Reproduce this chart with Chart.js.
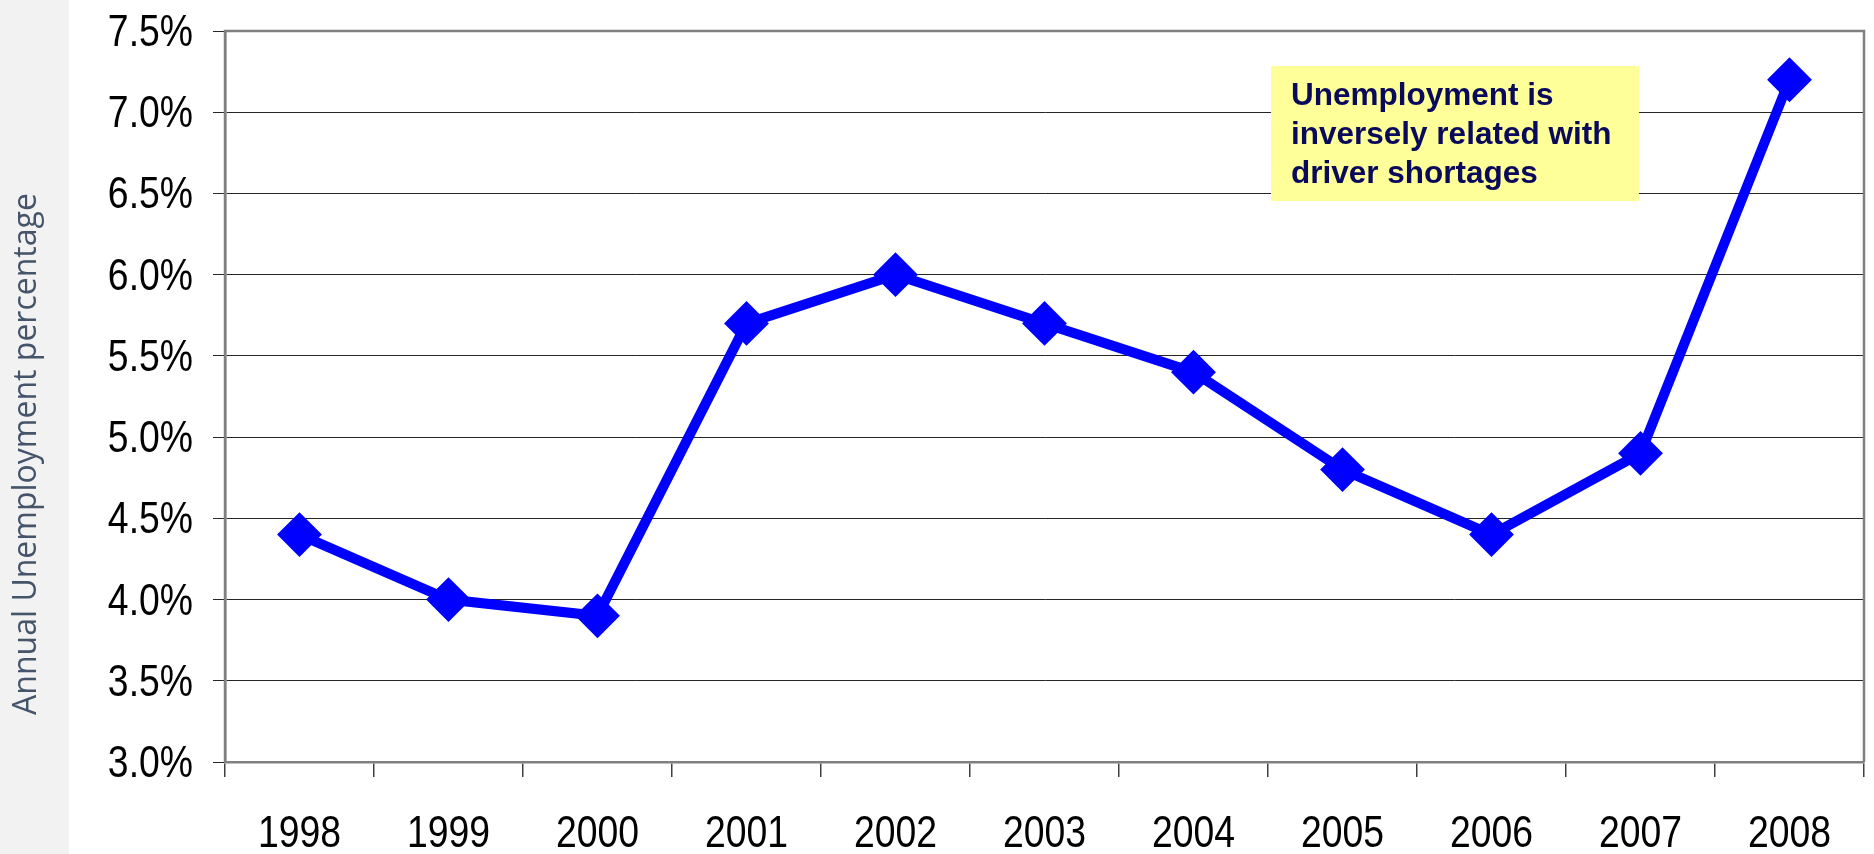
<!DOCTYPE html>
<html><head><meta charset="utf-8">
<script src="https://cdn.jsdelivr.net/npm/chart.js@4.4.0/dist/chart.umd.min.js"></script>
<style>html,body{margin:0;padding:0;background:#fff;overflow:hidden}</style>
</head><body>
<canvas id="c" width="1874" height="854"></canvas>
<script>
const years = ['1998','1999','2000','2001','2002','2003','2004','2005','2006','2007','2008'];
const unemployment = [4.4, 4.0, 3.9, 5.7, 6.0, 5.7, 5.4, 4.8, 4.4, 4.9, 7.2];
const yTickValues = [3.0, 3.5, 4.0, 4.5, 5.0, 5.5, 6.0, 6.5, 7.0, 7.5];
const yAxisTitle = 'Annual Unemployment percentage';
const noteLines = ['Unemployment is', 'inversely related with', 'driver shortages'];

const SANS = "'Liberation Sans', Arial, sans-serif";
const fmtPct = v => Number(v).toFixed(1) + '%';

const panelPlugin = {
  id: 'panel',
  beforeDraw(chart) {
    const ctx = chart.ctx;
    ctx.save();
    ctx.fillStyle = '#ffffff';
    ctx.fillRect(0, 0, chart.width, chart.height);
    ctx.fillStyle = '#f2f2f2';
    ctx.fillRect(0, 0, 69, chart.height);
    ctx.translate(36, 454);
    ctx.rotate(-Math.PI / 2);
    ctx.fillStyle = '#44546a';
    ctx.font = "32px 'Open Sans', 'Noto Sans', sans-serif";
    ctx.textAlign = 'center';
    ctx.textBaseline = 'alphabetic';
    ctx.fillText(yAxisTitle, 0, 0);
    ctx.restore();
  }
};

const framePlugin = {
  id: 'frameNote',
  beforeDatasetsDraw(chart) {
    const ctx = chart.ctx;
    const a = chart.chartArea;
    ctx.save();
    ctx.strokeStyle = '#808080';
    ctx.lineWidth = 2.5;
    ctx.beginPath();
    ctx.moveTo(a.left, a.bottom);
    ctx.lineTo(a.left, a.top);
    ctx.lineTo(a.right, a.top);
    ctx.lineTo(a.right, a.bottom);
    ctx.stroke();
    const w = a.right - a.left, h = a.bottom - a.top;
    const bx = a.left + w * 0.6382, by = a.top + h * 0.0479;
    const bw = w * 0.2245, bh = h * 0.1847;
    ctx.fillStyle = '#ffff99';
    ctx.fillRect(bx, by, bw, bh);
    ctx.fillStyle = '#0a0a5c';
    ctx.font = "bold 31.5px " + SANS;
    ctx.textBaseline = 'alphabetic';
    ctx.textAlign = 'left';
    noteLines.forEach((t, i) => {
      ctx.fillText(t, bx + 20, by + 39 + i * 39);
    });
    ctx.restore();
  }
};

// condensed tick labels, placed from the library's own scales
const tickLabelPlugin = {
  id: 'tickLabels',
  afterDraw(chart) {
    const ctx = chart.ctx;
    const sx = chart.scales.x, sy = chart.scales.y;
    ctx.save();
    ctx.fillStyle = '#000';
    ctx.font = '45px ' + SANS;
    ctx.textBaseline = 'alphabetic';
    sx.ticks.forEach((t, i) => {
      const x = sx.getPixelForTick(i);
      ctx.save();
      ctx.translate(x, sx.top + 85);
      ctx.scale(0.83, 1);
      ctx.textAlign = 'center';
      ctx.fillText(sx.getLabelForValue(t.value), 0, 0);
      ctx.restore();
    });
    sy.ticks.forEach((t, i) => {
      const y = sy.getPixelForTick(i);
      ctx.save();
      ctx.translate(sy.right - 32, y + 15);
      ctx.scale(0.83, 1);
      ctx.textAlign = 'right';
      ctx.fillText(fmtPct(t.value), 0, 0);
      ctx.restore();
    });
    ctx.restore();
  }
};

new Chart(document.getElementById('c'), {
  type: 'line',
  data: {
    labels: years,
    datasets: [{
      data: unemployment,
      borderColor: '#0000ff',
      backgroundColor: '#0000ff',
      borderWidth: 10,
      tension: 0,
      pointStyle: 'rectRot',
      pointRadius: 21,
      pointBorderWidth: 2,
      pointBackgroundColor: '#0000ff',
      pointBorderColor: '#0000ff',
      fill: false
    }]
  },
  options: {
    responsive: false,
    animation: false,
    devicePixelRatio: 1,
    layout: { autoPadding: false, padding: { top: 31, right: 10, left: 0, bottom: 0 } },
    plugins: { legend: { display: false }, tooltip: { enabled: false } },
    scales: {
      x: {
        offset: true,
        grid: { offset: true, display: true, drawOnChartArea: false, drawTicks: true, tickLength: 15, color: '#404040', lineWidth: 1.5 },
        border: { display: true, color: '#808080', width: 2.5 },
        ticks: { display: false, autoSkip: false, maxRotation: 0 },
        afterFit(s) { s.height = 92; s.paddingLeft = 0; s.paddingRight = 0; }
      },
      y: {
        min: 3, max: 7.5,
        afterBuildTicks(s) { s.ticks = yTickValues.map(v => ({ value: v })); },
        grid: { color: '#262626', lineWidth: 1, tickLength: 12, drawTicks: true },
        border: { display: true, color: '#808080', width: 2.5 },
        ticks: { display: false, callback: fmtPct },
        afterFit(s) { s.width = 225; s.paddingTop = 0; s.paddingBottom = 0; }
      }
    }
  },
  plugins: [panelPlugin, framePlugin, tickLabelPlugin]
});
</script>
</body></html>
